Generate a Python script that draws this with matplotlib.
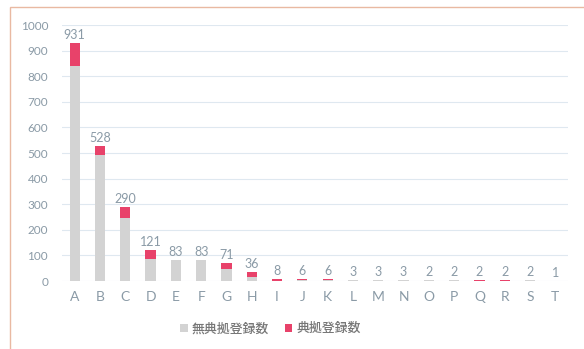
import numpy as np
import matplotlib.pyplot as plt
from matplotlib.patches import Rectangle

# カテゴリと値
categories = list("ABCDEFGHIJKLMNOPQRST")
no_authority = [840, 492, 246, 86, 83, 83, 47, 16, 0, 3, 4, 2, 2, 3, 2, 2, 0, 0, 2, 1]
authority = [91, 36, 44, 35, 0, 0, 24, 20, 8, 3, 2, 1, 1, 0, 0, 0, 2, 2, 0, 0]
totals = [931, 528, 290, 121, 83, 83, 71, 36, 8, 6, 6, 3, 3, 3, 2, 2, 2, 2, 2, 1]
yticks = [0, 100, 200, 300, 400, 500, 600, 700, 800, 900, 1000]

gray = "#d3d3d3"
red = "#e8426a"
txt = "#8a9aa6"

plt.rcParams['font.family'] = ['Lato', 'Noto Sans CJK JP', 'DejaVu Sans']

fig = plt.figure(figsize=(5.84, 3.49), dpi=100)
W, H = 584, 349
ax = fig.add_axes([62 / W, 1 - 281 / H, (568 - 62) / W, (281 - 25) / H])

x = np.arange(len(categories))
ax.bar(x, no_authority, width=0.4, color=gray, label="無典拠登録数", zorder=2)
ax.bar(x, authority, width=0.4, bottom=no_authority, color=red, label="典拠登録数", zorder=2)

for xi, t in zip(x, totals):
    ax.text(xi, t + 8, str(t), ha="center", va="bottom", fontsize=9, color=txt)

ax.set_xlim(-0.5, len(categories) - 0.5)
ax.set_ylim(0, 1000)
ax.set_yticks(yticks)
ax.set_xticks(x)
ax.set_xticklabels(categories)
ax.grid(axis="y", color="#dfe8f0", linewidth=0.8, zorder=0)
for s in ax.spines.values():
    s.set_visible(False)
ax.tick_params(axis="y", length=0, labelsize=8.5, labelcolor=txt, pad=10)
ax.tick_params(axis="x", length=0, labelsize=10, labelcolor=txt, pad=7)

leg = fig.legend(loc="center", bbox_to_anchor=(0.463, 1 - 328 / H), ncol=2, frameon=False,
                 prop={'size': 9.3, 'weight': 'medium'}, handlelength=0.6, handleheight=0.6,
                 handletextpad=0.3, columnspacing=1.2)
for t in leg.get_texts():
    t.set_color("#777777")

# 外枠
fig.patches.append(Rectangle((10 / W, -0.05), 1.2, 1 - 7 / H + 0.05, transform=fig.transFigure,
                             fill=False, edgecolor="#e9b9a2", linewidth=1.0))

fig.savefig("out.png", dpi=100)
